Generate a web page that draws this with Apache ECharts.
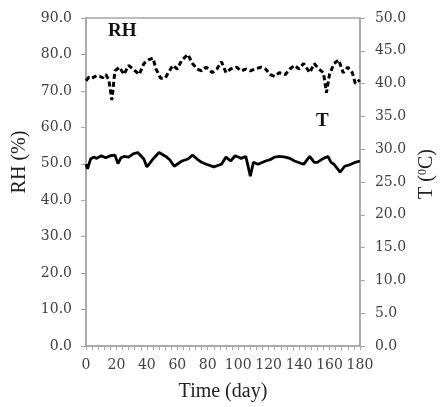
<!DOCTYPE html>
<html lang="en">
<head>
<meta charset="UTF-8">
<title>RH and T</title>
<style>
    * { margin: 0; padding: 0; }
    body { background: #fff; }
    #chart { width: 445px; height: 407px; }
</style>
<script src="https://cdn.jsdelivr.net/npm/echarts@6/dist/echarts.min.js"></script>
</head>
<body>
<div id="chart"></div>
<script>
// relative humidity (%), left axis
var rhDays = [0, 2, 4, 7, 9, 11, 13, 15, 17, 19, 22, 25, 28, 31, 35, 38, 41, 44, 46, 49, 52, 57, 60, 63, 67, 70, 73, 76, 79, 83, 86, 89, 92, 95, 99, 102, 105, 108, 111, 115, 118, 121, 124, 127, 131, 134, 137, 140, 143, 147, 150, 153, 156, 158, 160, 163, 166, 169, 172, 175, 177, 180];
var rhValues = [72.8, 73.8, 73.5, 74.2, 74.0, 73.6, 74.5, 73.0, 67.5, 75.5, 76.5, 74.5, 77.0, 76.0, 74.5, 77.5, 78.5, 79.0, 76.0, 73.5, 73.5, 77.0, 76.0, 78.5, 80.0, 77.5, 76.0, 75.5, 76.5, 75.0, 76.0, 78.0, 75.0, 76.0, 76.5, 75.5, 76.0, 75.5, 76.0, 76.5, 76.0, 74.5, 74.0, 75.0, 74.5, 76.0, 77.0, 76.0, 77.5, 75.0, 77.5, 76.0, 75.0, 69.5, 74.5, 77.5, 78.5, 75.0, 76.5, 75.0, 72.0, 73.0];

// temperature (°C), right axis
var tDays = [0, 1, 3, 5, 7, 10, 13, 16, 17, 19, 21, 23, 25, 28, 31, 34, 38, 40, 44, 48, 49, 53, 55, 58, 63, 67, 70, 73, 76, 79, 84, 89, 92, 95, 98, 100, 102, 105, 108, 110, 113, 118, 121, 124, 127, 131, 134, 137, 143, 145, 147, 150, 152, 153, 156, 159, 161, 163, 167, 170, 173, 177, 180];
var tValues = [27.7, 27.0, 28.5, 28.8, 28.6, 29.0, 28.7, 29.0, 28.8, 29.1, 27.8, 28.7, 28.9, 28.8, 29.3, 29.5, 28.5, 27.3, 28.5, 29.5, 29.7, 28.8, 28.4, 27.4, 28.2, 28.5, 29.1, 28.5, 28.0, 27.7, 27.3, 27.7, 28.8, 28.2, 29.0, 28.8, 28.6, 28.9, 25.9, 28.0, 27.7, 28.2, 28.4, 28.8, 28.9, 28.8, 28.6, 28.2, 27.7, 28.3, 28.9, 28.0, 28.0, 27.7, 28.6, 28.9, 28.0, 27.7, 26.5, 27.4, 27.6, 28.0, 28.2];

function pairs(xs, ys) {
    var out = [];
    for (var i = 0; i < xs.length; i++) out.push([xs[i], ys[i]]);
    return out;
}

var axisGray = '#a6a6a6';
var labelFont = { color: '#404040', fontFamily: 'DejaVu Serif', fontSize: 14 };

var chart = echarts.init(document.getElementById('chart'), null, { renderer: 'canvas' });
var option = {
    animation: false,
    grid: { left: 86, top: 18, right: 78, bottom: 58, show: true, borderColor: axisGray, borderWidth: 1.5 },
    xAxis: {
        type: 'value', min: 0, max: 180, interval: 20,
        name: 'Time (day)', nameLocation: 'middle', nameGap: 36,
        nameTextStyle: { color: '#222', fontFamily: 'Liberation Serif', fontSize: 20 },
        axisLine: { lineStyle: { color: axisGray, width: 1.5 } },
        axisTick: { length: 4, lineStyle: { color: axisGray } },
        minorTick: { show: true, splitNumber: 5, length: 4, lineStyle: { color: axisGray } },
        axisLabel: Object.assign({ margin: 12 }, labelFont),
        splitLine: { show: false }
    },
    yAxis: [{
        type: 'value', min: 0, max: 90, interval: 10,
        name: 'RH (%)', nameLocation: 'middle', nameGap: 50, nameRotate: 90,
        nameTextStyle: { color: '#222', fontFamily: 'Liberation Serif', fontSize: 20, padding: [0, 0, 0, 40] },
        axisLine: { show: true, lineStyle: { color: axisGray, width: 1.5 } },
        axisTick: { show: true, length: 5, lineStyle: { color: axisGray } },
        axisLabel: Object.assign({ margin: 14, formatter: function (v) { return v.toFixed(1); } }, labelFont),
        splitLine: { show: false }
    }, {
        type: 'value', min: 0, max: 50, interval: 5, position: 'right',
        name: 'T ({sup|0}C)', nameLocation: 'middle', nameGap: 50, nameRotate: 90,
        nameTextStyle: {
            color: '#222', fontFamily: 'Liberation Serif', fontSize: 20, padding: [0, 0, 0, 16],
            rich: { sup: { fontFamily: 'Liberation Serif', fontSize: 12, color: '#222', verticalAlign: 'top', padding: [0, 0, 8, 0] } }
        },
        axisLine: { show: true, lineStyle: { color: axisGray, width: 1.5 } },
        axisTick: { show: true, length: 5, lineStyle: { color: axisGray } },
        axisLabel: Object.assign({ margin: 15, formatter: function (v) { return v.toFixed(1); } }, labelFont),
        splitLine: { show: false }
    }],
    graphic: [
        { type: 'text', left: 108, top: 22, style: { text: 'RH', fontFamily: 'Liberation Serif', fontWeight: 'bold', fontSize: 19, fill: '#111' } },
        { type: 'text', left: 316, top: 112, style: { text: 'T', fontFamily: 'Liberation Serif', fontWeight: 'bold', fontSize: 19, fill: '#111' } }
    ],
    series: [{
        name: 'RH', type: 'line', yAxisIndex: 0, showSymbol: false, symbol: 'none',
        data: pairs(rhDays, rhValues),
        lineStyle: { color: '#000', width: 3, type: [5, 3] }
    }, {
        name: 'T', type: 'line', yAxisIndex: 1, showSymbol: false, symbol: 'none',
        data: pairs(tDays, tValues),
        lineStyle: { color: '#000', width: 2.8 }
    }]
};
chart.setOption(option);
</script>
</body>
</html>
